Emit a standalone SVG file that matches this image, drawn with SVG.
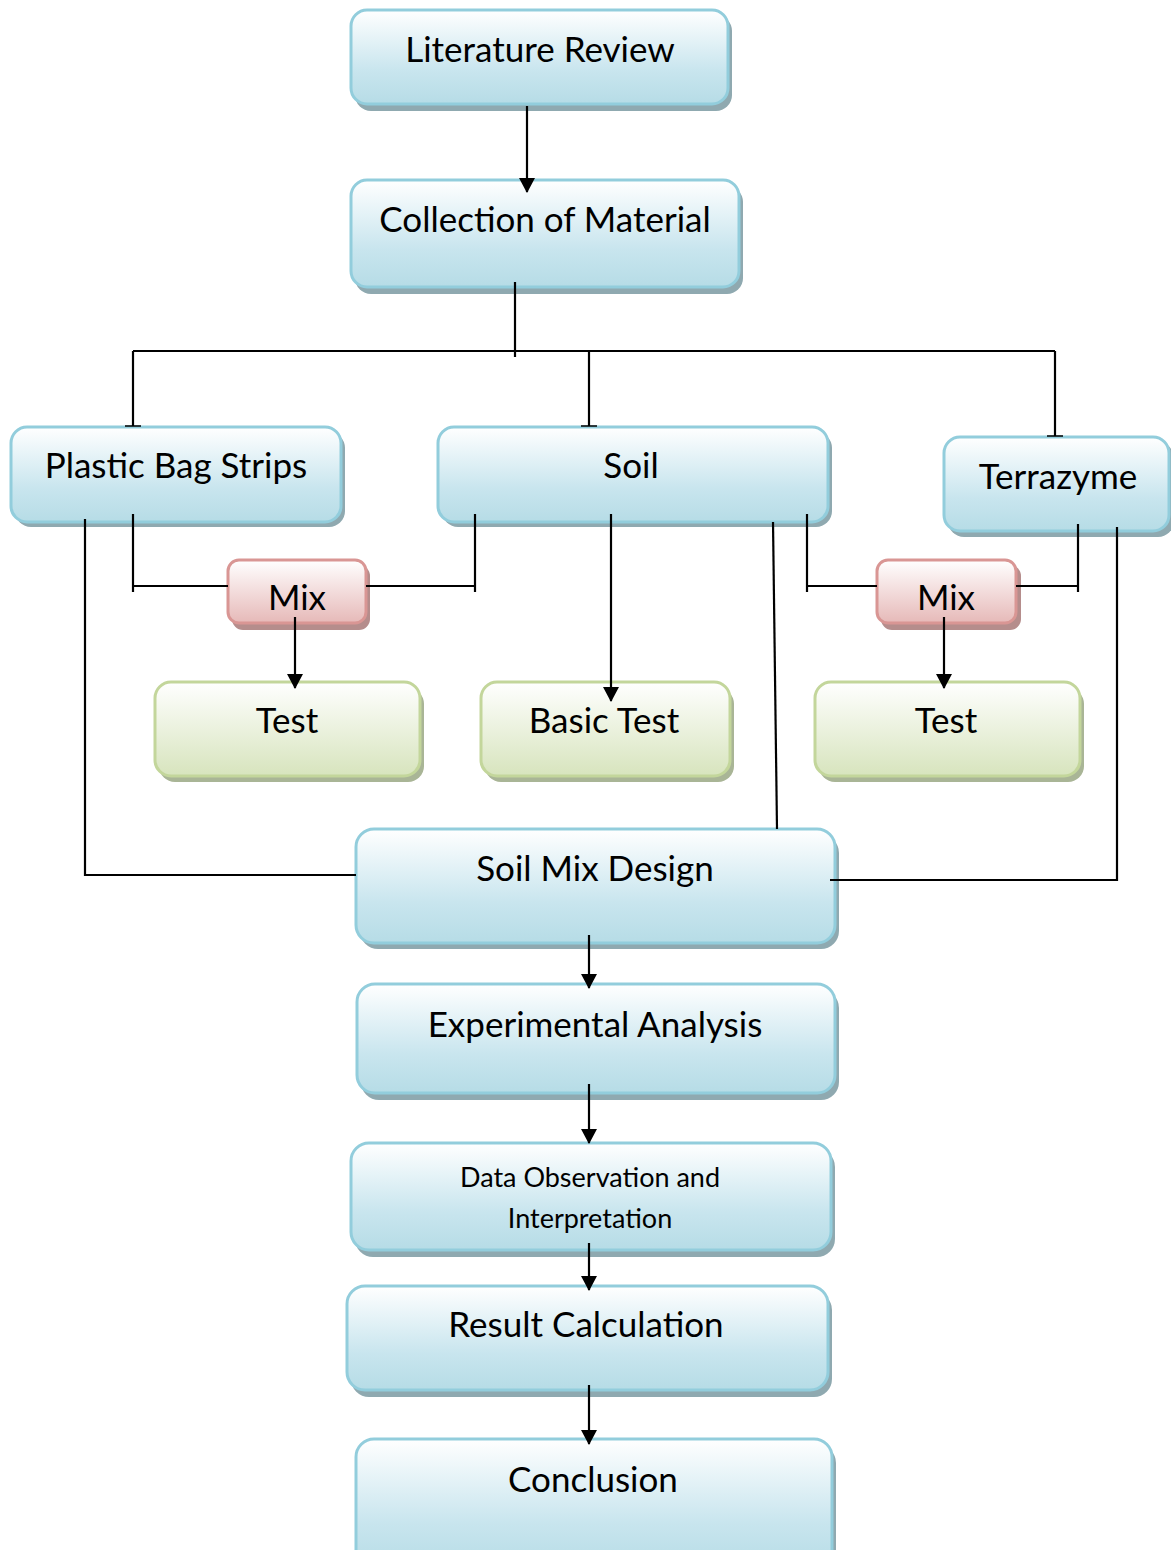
<svg xmlns="http://www.w3.org/2000/svg" width="1171" height="1550" viewBox="0 0 1171 1550">
<defs>
<linearGradient id="gBlue" x1="0" y1="0" x2="0" y2="1">
<stop offset="0" stop-color="#ffffff"/><stop offset="0.65" stop-color="#c8e5ee"/><stop offset="1" stop-color="#b6dce6"/>
</linearGradient>
<linearGradient id="gRed" x1="0" y1="0" x2="0" y2="1">
<stop offset="0" stop-color="#ffffff"/><stop offset="1" stop-color="#e6b9b8"/>
</linearGradient>
<linearGradient id="gGreen" x1="0" y1="0" x2="0" y2="1">
<stop offset="0" stop-color="#ffffff"/><stop offset="1" stop-color="#d7e4bd"/>
</linearGradient>
<marker id="arrow" viewBox="0 0 15 16" refX="14" refY="8" markerWidth="15" markerHeight="16" markerUnits="userSpaceOnUse" orient="auto">
<path d="M0,0 L15,8 L0,16 Z" fill="#000"/>
</marker>
<marker id="tee" viewBox="0 0 4 16" refX="2" refY="8" markerWidth="4" markerHeight="16" markerUnits="userSpaceOnUse" orient="auto">
<path d="M2,0 L2,16" stroke="#000" stroke-width="1.5"/>
</marker>
</defs>
<style>
.sh{fill:#8fa9b0}
.shr{fill:#b58d8c}
.shg{fill:#a9b596}
.b{fill:url(#gBlue);stroke:#92cddc;stroke-width:3}
.r{fill:url(#gRed);stroke:#d99694;stroke-width:3}
.g{fill:url(#gGreen);stroke:#c3d69b;stroke-width:3}
text{font-family:Lato,"Open Sans","Liberation Sans",sans-serif;font-size:35px;fill:#000;text-anchor:middle}
.sm{font-size:27px}
.c{fill:none;stroke:#000;stroke-width:2.2}
.a{marker-end:url(#arrow)}
.t{marker-end:url(#tee)}
</style>

<g id="literature-review">
<rect class="sh" x="355" y="15" width="377" height="96" rx="16"/>
<rect class="b" x="351" y="10" width="377" height="94" rx="16"/>
<text x="540" y="62">Literature Review</text>
</g>
<g id="collection-of-material">
<rect class="sh" x="355" y="186" width="388" height="108" rx="16"/>
<rect class="b" x="351" y="180" width="388" height="107" rx="16"/>
<text x="545" y="232">Collection of Material</text>
</g>
<g id="plastic-bag-strips">
<rect class="sh" x="15" y="432" width="330" height="95" rx="16"/>
<rect class="b" x="11" y="427" width="330" height="95" rx="16"/>
<text x="176" y="478">Plastic Bag Strips</text>
</g>
<g id="soil">
<rect class="sh" x="442" y="432" width="390" height="95" rx="16"/>
<rect class="b" x="438" y="427" width="390" height="95" rx="16"/>
<text x="631" y="478">Soil</text>
</g>
<g id="terrazyme">
<rect class="sh" x="948" y="442" width="226" height="95" rx="16"/>
<rect class="b" x="944" y="437" width="225" height="94" rx="16"/>
<text x="1058" y="489">Terrazyme</text>
</g>
<g id="mix-left">
<rect class="shr" x="232" y="565" width="138" height="65" rx="11"/>
<rect class="r" x="228" y="560" width="138" height="63" rx="11"/>
<text x="297" y="610">Mix</text>
</g>
<g id="mix-right">
<rect class="shr" x="881" y="565" width="140" height="65" rx="11"/>
<rect class="r" x="877" y="560" width="139" height="63" rx="11"/>
<text x="946" y="610">Mix</text>
</g>
<g id="test-left">
<rect class="shg" x="159" y="688" width="265" height="94" rx="16"/>
<rect class="g" x="155" y="682" width="265" height="94" rx="16"/>
<text x="287" y="733">Test</text>
</g>
<g id="basic-test">
<rect class="shg" x="485" y="688" width="249" height="94" rx="16"/>
<rect class="g" x="481" y="682" width="249" height="94" rx="16"/>
<text x="604" y="733">Basic Test</text>
</g>
<g id="test-right">
<rect class="shg" x="819" y="688" width="265" height="94" rx="16"/>
<rect class="g" x="815" y="682" width="265" height="94" rx="16"/>
<text x="946" y="733">Test</text>
</g>
<g id="soil-mix-design">
<rect class="sh" x="360" y="835" width="479" height="114" rx="18"/>
<rect class="b" x="356" y="829" width="479" height="114" rx="18"/>
<text x="595" y="881">Soil Mix Design</text>
</g>
<g id="experimental-analysis">
<rect class="sh" x="361" y="990" width="478" height="110" rx="18"/>
<rect class="b" x="357" y="984" width="478" height="109" rx="18"/>
<text x="595" y="1037">Experimental Analysis</text>
</g>
<g id="data-observation">
<rect class="sh" x="355" y="1149" width="480" height="108" rx="18"/>
<rect class="b" x="351" y="1143" width="480" height="107" rx="18"/>
<text class="sm" x="590" y="1187">Data Observation and</text>
<text class="sm" x="590" y="1228">Interpretation</text>
</g>
<g id="result-calculation">
<rect class="sh" x="351" y="1292" width="481" height="105" rx="18"/>
<rect class="b" x="347" y="1286" width="481" height="104" rx="18"/>
<text x="586" y="1337">Result Calculation</text>
</g>
<g id="conclusion">
<rect class="sh" x="360" y="1445" width="476" height="130" rx="18"/>
<rect class="b" x="356" y="1439" width="476" height="130" rx="18"/>
<text x="593" y="1492">Conclusion</text>
</g>

<g id="connectors">
<line class="c a" x1="527" y1="106" x2="527" y2="192"/>
<line class="c" x1="515" y1="282" x2="515" y2="357"/>
<polyline class="c" points="133,351 1055,351"/>
<line class="c t" x1="133" y1="351" x2="133" y2="426"/>
<line class="c t" x1="589" y1="351" x2="589" y2="426"/>
<line class="c t" x1="1055" y1="351" x2="1055" y2="436"/>
<line class="c" x1="133" y1="514" x2="133" y2="592"/>
<line class="c" x1="133" y1="586" x2="228" y2="586"/>
<line class="c" x1="366" y1="586" x2="475" y2="586"/>
<line class="c" x1="475" y1="514" x2="475" y2="592"/>
<line class="c a" x1="295" y1="617" x2="295" y2="688"/>
<line class="c a" x1="611" y1="514" x2="611" y2="701"/>
<line class="c" x1="807" y1="514" x2="807" y2="592"/>
<line class="c" x1="807" y1="586" x2="877" y2="586"/>
<line class="c" x1="1016" y1="586" x2="1078" y2="586"/>
<line class="c" x1="1078" y1="524" x2="1078" y2="592"/>
<line class="c a" x1="944" y1="617" x2="944" y2="688"/>
<polyline class="c" points="85,519 85,875 356,875"/>
<line class="c" x1="773" y1="522" x2="777" y2="829"/>
<polyline class="c" points="1117,527 1117,880 830,880"/>
<line class="c a" x1="589" y1="935" x2="589" y2="988"/>
<line class="c a" x1="589" y1="1084" x2="589" y2="1143"/>
<line class="c a" x1="589" y1="1243" x2="589" y2="1290"/>
<line class="c a" x1="589" y1="1385" x2="589" y2="1444"/>
</g>
</svg>
